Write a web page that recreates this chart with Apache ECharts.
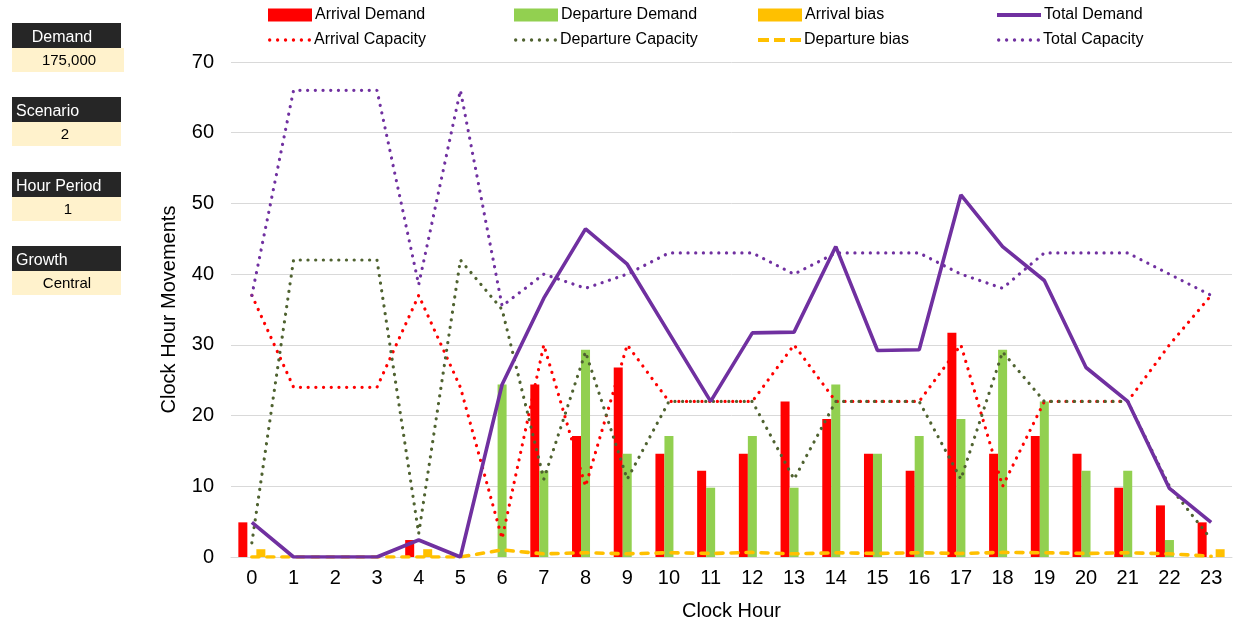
<!DOCTYPE html>
<html>
<head>
<meta charset="utf-8">
<script src="https://cdn.jsdelivr.net/npm/echarts@6/dist/echarts.min.js"></script>
<style>
  html, body { margin: 0; padding: 0; background: #fff; }
  #chart { width: 1239px; height: 626px; }
</style>
</head>
<body>
<div id="chart"></div>
<script>
// Hourly movements by clock hour
const hours = ['0','1','2','3','4','5','6','7','8','9','10','11','12','13','14','15','16','17','18','19','20','21','22','23'];

const arrivalDemand     = [4.9, 0, 0, 0, 2.4, 0, 0, 24.4, 17.1, 26.8, 14.6, 12.2, 14.6, 22.0, 19.5, 14.6, 12.2, 31.7, 14.6, 17.1, 14.6, 9.8, 7.3, 4.9];
const departureDemand   = [0, 0, 0, 0, 0, 0, 24.4, 12.2, 29.3, 14.6, 17.1, 9.8, 17.1, 9.8, 24.4, 14.6, 17.1, 19.5, 29.3, 22.0, 12.2, 12.2, 2.4, 0];
const arrivalBias       = [1.1, 0, 0, 0, 1.1, 0, 0, 0, 0, 0, 0, 0, 0, 0, 0, 0, 0, 0, 0, 0, 0, 0, 0, 1.1];
const totalDemand       = [4.9, 0, 0, 0, 2.4, 0, 24.4, 36.6, 46.4, 41.4, 31.7, 22.0, 31.7, 31.8, 43.9, 29.2, 29.3, 51.2, 43.9, 39.1, 26.8, 22.0, 9.7, 4.9];
const arrivalCapacity   = [37, 24, 24, 24, 37, 24, 2.6, 30, 10, 30, 22, 22, 22, 30, 22, 22, 22, 30, 10, 22, 22, 22, 30, 37];
const departureCapacity = [2, 42, 42, 42, 3.3, 42, 35, 11, 29, 11, 22, 22, 22, 11, 22, 22, 22, 11, 29, 22, 22, 22, 10, 2.5];
const departureBias     = [0, 0, 0, 0, 0, 0, 1.0, 0.45, 0.6, 0.45, 0.6, 0.5, 0.65, 0.45, 0.6, 0.5, 0.6, 0.5, 0.65, 0.6, 0.5, 0.6, 0.45, 0.1];
const totalCapacity     = [37, 66, 66, 66, 38.5, 66, 35.5, 40, 38, 40, 43, 43, 43, 40, 43, 43, 43, 40, 38, 43, 43, 43, 40, 37];

const yTicks = { min: 0, max: 70, interval: 10 };

// Parameter panel on the left
const panel = [
  { label: 'Demand', value: '175,000', y: 23, labelAlign: 'center', boxW: 112, valueX: 69 },
  { label: 'Scenario', value: '2', y: 97, labelAlign: 'left', boxW: 109, valueX: 65 },
  { label: 'Hour Period', value: '1', y: 172, labelAlign: 'left', boxW: 109, valueX: 68 },
  { label: 'Growth', value: 'Central', y: 246, labelAlign: 'left', boxW: 109, valueX: 67 }
];

const FONT = '"Liberation Sans", Arial, sans-serif';
const C = {
  red: '#FF0000', green: '#92D050', gold: '#FFC000', purple: '#7030A0', olive: '#4F6230'
};

const panelGraphics = [];
panel.forEach(p => {
  panelGraphics.push({
    type: 'rect', shape: { x: 12, y: p.y, width: 109, height: 25 },
    style: { fill: '#262626' }
  });
  panelGraphics.push({
    type: 'rect', shape: { x: 12, y: p.y + 25, width: p.boxW, height: 24 },
    style: { fill: '#FFF2CC' }
  });
  panelGraphics.push({
    type: 'text',
    x: p.labelAlign === 'center' ? 62 : 16, y: p.y + 15,
    style: { text: p.label, fill: '#fff', font: '16px ' + FONT, align: p.labelAlign, verticalAlign: 'middle' }
  });
  panelGraphics.push({
    type: 'text', x: p.valueX, y: p.y + 38,
    style: { text: p.value, fill: '#000', font: '15px ' + FONT, align: 'center', verticalAlign: 'middle' }
  });
});

// Legend icon shapes
function dotsPath(n, step, r) {
  let d = '';
  for (let i = 0; i < n; i++) {
    const cx = r + i * step;
    d += 'M' + (cx - r) + ',' + r + ' a' + r + ',' + r + ' 0 1,0 ' + (2 * r) + ',0 a' + r + ',' + r + ' 0 1,0 ' + (-2 * r) + ',0 Z ';
  }
  return 'path://' + d;
}
function dashesPath(n, len, gap, h) {
  let d = '';
  for (let i = 0; i < n; i++) {
    const x = i * (len + gap);
    d += 'M' + x + ',0 h' + len + ' v' + h + ' h' + (-len) + ' Z ';
  }
  return 'path://' + d;
}
const ICON_BAR = { icon: 'rect', w: 44, h: 13 };
const ICON_SOLID = { icon: 'rect', w: 44, h: 4 };
const ICON_DOTS = { icon: dotsPath(6, 8, 1.7), w: 43, h: 3.4 };
const ICON_DASH = { icon: dashesPath(3, 11, 5, 4), w: 43, h: 4 };

// Legend: 2 rows x 4 columns, one entry per legend component
const legendCols = [268, 514, 758, 997];
const legendRows = [7, 32];
const legendItems = [
  [['Arrival Demand', ICON_BAR], ['Departure Demand', ICON_BAR], ['Arrival bias', ICON_BAR], ['Total Demand', ICON_SOLID]],
  [['Arrival Capacity', ICON_DOTS], ['Departure Capacity', ICON_DOTS], ['Departure bias', ICON_DASH], ['Total Capacity', ICON_DOTS]]
];
const legends = [];
legendItems.forEach((row, r) => row.forEach(([name, ic], c) => {
  legends.push({
    data: [{ name: name, icon: ic.icon }], left: legendCols[c], top: legendRows[r], padding: 0,
    itemWidth: ic.w, itemHeight: ic.h, itemGap: 0, selectedMode: false,
    itemStyle: { borderWidth: 0 },
    textStyle: { fontFamily: FONT, fontSize: 16, color: '#000', padding: [0, 0, 0, -2] }
  });
}));

const dotted = (color) => ({ color: color, width: 3.2, type: [0.1, 7.6], cap: 'round' });

const option = {
  animation: false,
  backgroundColor: '#fff',
  legend: legends,
  grid: { left: 231, right: 7, top: 62, bottom: 64, containLabel: false },
  xAxis: {
    type: 'category', data: hours,
    name: 'Clock Hour', nameLocation: 'middle', nameGap: 44,
    nameTextStyle: { fontFamily: FONT, fontSize: 20, color: '#000' },
    axisLine: { lineStyle: { color: '#D9D9D9', width: 1 } },
    axisTick: { show: false },
    axisLabel: { fontFamily: FONT, fontSize: 20, color: '#000', margin: 11 }
  },
  yAxis: {
    type: 'value', min: yTicks.min, max: yTicks.max, interval: yTicks.interval,
    name: 'Clock Hour Movements', nameLocation: 'middle', nameGap: 52,
    nameTextStyle: { fontFamily: FONT, fontSize: 20, color: '#000' },
    axisLine: { show: false }, axisTick: { show: false },
    axisLabel: { fontFamily: FONT, fontSize: 20, color: '#000', margin: 17 },
    splitLine: { lineStyle: { color: '#D9D9D9', width: 1 } }
  },
  series: [
    { name: 'Arrival Demand', type: 'bar', data: arrivalDemand, barWidth: 9, barGap: '0%', itemStyle: { color: C.red } },
    { name: 'Departure Demand', type: 'bar', data: departureDemand, barWidth: 9, barGap: '0%', itemStyle: { color: C.green } },
    { name: 'Arrival bias', type: 'bar', data: arrivalBias, barWidth: 9, barGap: '0%', itemStyle: { color: C.gold } },
    { name: 'Total Demand', type: 'line', data: totalDemand, symbol: 'none', z: 5,
      lineStyle: { color: C.purple, width: 3.6 }, itemStyle: { color: C.purple } },
    { name: 'Arrival Capacity', type: 'line', data: arrivalCapacity, symbol: 'none', z: 4,
      lineStyle: dotted(C.red), itemStyle: { color: C.red } },
    { name: 'Departure Capacity', type: 'line', data: departureCapacity, symbol: 'none', z: 4,
      lineStyle: dotted(C.olive), itemStyle: { color: C.olive } },
    { name: 'Departure bias', type: 'line', data: departureBias, symbol: 'none', z: 4,
      lineStyle: { color: C.gold, width: 3.6, type: [7, 8], cap: 'round' }, itemStyle: { color: C.gold } },
    { name: 'Total Capacity', type: 'line', data: totalCapacity, symbol: 'none', z: 4,
      lineStyle: dotted(C.purple), itemStyle: { color: C.purple } }
  ],
  graphic: panelGraphics
};

const chart = echarts.init(document.getElementById('chart'), null, { renderer: 'canvas' });
chart.setOption(option);
</script>
</body>
</html>
